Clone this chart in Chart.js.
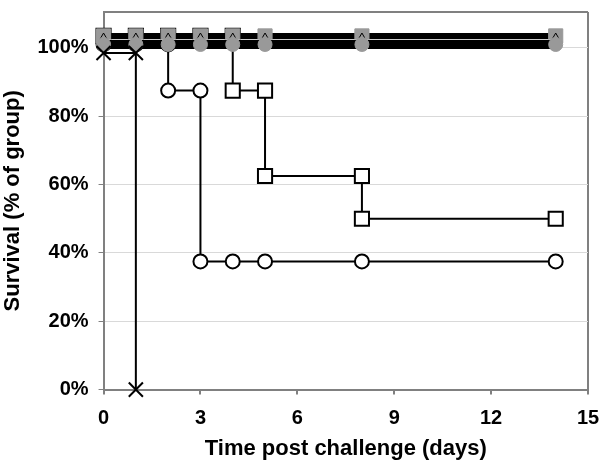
<!DOCTYPE html>
<html>
<head>
<meta charset="utf-8">
<script src="https://cdn.jsdelivr.net/npm/chart.js@4.4.1/dist/chart.umd.min.js"></script>
<style>
  html, body { margin: 0; padding: 0; background: #fff; }
  #wrap { width: 600px; height: 472px; }
</style>
</head>
<body>
<div id="wrap"><canvas id="surv"></canvas></div>
<script>
// survival data (% of group)
var yTicks = [0, 20, 40, 60, 80, 100];
var yTop = 110.5;

// groups that all survived (drawn slightly offset, like the original)
var fullDays = [0, 1, 2, 3, 4, 5, 8, 14];
var grpSquareFill = [103.5, 103.5, 103.5, 103.5, 103.5, 103.5, 103.5, 103.5];
var grpTriangle   = [102.3, 102.3, 102.3, 102.3, 102.3, 102.3, 102.3, 102.3];
var grpCircleFill = [101, 101, 101, 101, 101, 101, 101, 101];

var openCircleDays = [0, 1, 2, 2, 3, 3, 4, 5, 8, 14];
var openCircleVals = [101, 101, 101, 87.5, 87.5, 37.5, 37.5, 37.5, 37.5, 37.5];

var openSquareDays = [0, 1, 2, 3, 4, 4, 5, 5, 8, 8, 14];
var openSquareVals = [103.5, 103.5, 103.5, 103.5, 103.5, 87.5, 87.5, 62.5, 62.5, 50, 50];

var crossDays = [0, 1, 1];
var crossVals = [98.5, 98.5, 0];

function pts(xs, ys) {
  var out = [];
  for (var i = 0; i < xs.length; i++) out.push({x: xs[i], y: ys[i]});
  return out;
}

var font = "'Liberation Sans', Arial, sans-serif";

var datasets = [
  {label: "X", data: pts(crossDays, crossVals), borderColor: "#000", borderWidth: 2, clip: false,
   pointStyle: "crossRot", pointRadius: 10, pointBorderColor: "#000", pointBorderWidth: 2, order: 0},
  {label: "gray circle", data: pts(fullDays, grpCircleFill), borderColor: "#000", borderWidth: 9, clip: false,
   pointStyle: "circle", pointRadius: 7, pointBackgroundColor: "#999", pointBorderColor: "#999", pointBorderWidth: 1, order: 1},
  {label: "triangle", data: pts(fullDays, grpTriangle), borderColor: "#bbb", borderWidth: 1.5, clip: false,
   pointStyle: "triangle", pointRadius: 7, pointBackgroundColor: "#999", pointBorderColor: "#000", pointBorderWidth: 1, order: 2},
  {label: "gray square", data: pts(fullDays, grpSquareFill), borderColor: "#000", borderWidth: 6, clip: false,
   pointStyle: "rect", pointRadius: 10, pointBackgroundColor: "#999", pointBorderColor: "#999", pointBorderWidth: 1, order: 3},
  {label: "open circle", data: pts(openCircleDays, openCircleVals), borderColor: "#000", borderWidth: 2, clip: false,
   pointStyle: "circle", pointRadius: 7, pointBackgroundColor: "#fff", pointBorderColor: "#000", pointBorderWidth: 2, order: 4},
  {label: "open square", data: pts(openSquareDays, openSquareVals), borderColor: "#000", borderWidth: 2, clip: false,
   pointStyle: "rect", pointRadius: 10, pointBackgroundColor: "#fff", pointBorderColor: "#000", pointBorderWidth: 2, order: 5}
];

new Chart(document.getElementById("surv"), {
  type: "line",
  data: {datasets: datasets},
  options: {
    responsive: true,
    maintainAspectRatio: false,
    animation: false,
    layout: {padding: {top: 2, right: 0, left: 0, bottom: 10}},
    plugins: {legend: {display: false}, tooltip: {enabled: false}},
    elements: {line: {tension: 0}},
    scales: {
      x: {
        type: "linear", min: 0, max: 15,
        afterFit: function(s) { s.paddingRight = 11; },
        ticks: {stepSize: 3, color: "#000", font: {family: font, size: 20, weight: "bold"}, padding: 12},
        grid: {
          color: function(c) { return c.tick && c.tick.value === 15 ? "#808080" : "rgba(0,0,0,0)"; },
          lineWidth: 2, tickColor: "#808080", tickLength: 5
        },
        border: {color: "#808080", width: 2},
        title: {display: true, text: "Time post challenge (days)", color: "#000",
                font: {family: font, size: 22, weight: "bold"}, padding: {top: -7, bottom: 0}}
      },
      y: {
        min: 0, max: yTop,
        afterBuildTicks: function(s) {
          s.ticks = yTicks.map(function(v) { return {value: v}; }).concat([{value: yTop}]);
        },
        afterFit: function(s) { s.paddingTop = 0; },
        ticks: {color: "#000", font: {family: font, size: 20, weight: "bold"}, padding: 10,
                callback: function(v) { return v === yTop ? "" : v + "%"; }},
        grid: {
          color: function(c) { return c.tick && c.tick.value === yTop ? "#808080" : "#d9d9d9"; },
          lineWidth: function(c) { return c.tick && c.tick.value === yTop ? 2 : 1; },
          tickColor: function(c) { return c.tick && c.tick.value === yTop ? "rgba(0,0,0,0)" : "#808080"; },
          tickLength: 5
        },
        border: {color: "#808080", width: 2},
        title: {display: true, text: "Survival (% of group)", color: "#000",
                font: {family: font, size: 22, weight: "bold"}, padding: {top: 0, bottom: 1}}
      }
    }
  }
});
</script>
</body>
</html>
